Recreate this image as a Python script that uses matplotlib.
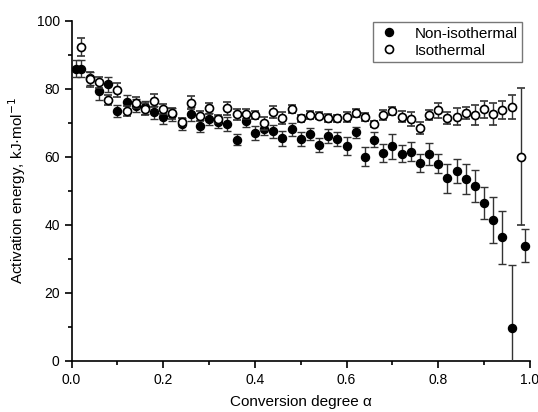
import matplotlib
matplotlib.use('Agg')
import matplotlib.pyplot as plt
from matplotlib.ticker import MultipleLocator

plt.rcParams['font.family'] = ['Liberation Sans', 'DejaVu Sans']

# Non-isothermal series
alpha_non = [0.01, 0.02, 0.04, 0.06, 0.08, 0.10, 0.12, 0.14, 0.16, 0.18,
             0.20, 0.22, 0.24, 0.26, 0.28, 0.30, 0.32, 0.34, 0.36, 0.38,
             0.40, 0.42, 0.44, 0.46, 0.48, 0.50, 0.52, 0.54, 0.56, 0.58,
             0.60, 0.62, 0.64, 0.66, 0.68, 0.70, 0.72, 0.74, 0.76, 0.78,
             0.80, 0.82, 0.84, 0.86, 0.88, 0.90, 0.92, 0.94, 0.96, 0.99]
E_non = [85.8, 85.8, 83.0, 79.4, 81.3, 73.4, 76.0, 75.0, 74.5, 73.0,
         71.7, 72.4, 69.6, 72.6, 69.0, 71.1, 70.1, 69.6, 65.0, 70.6,
         66.9, 68.2, 67.4, 65.4, 68.0, 65.1, 66.7, 63.4, 66.1, 65.1,
         63.1, 67.1, 60.0, 64.9, 61.0, 63.1, 60.8, 61.5, 58.2, 60.8,
         57.9, 53.6, 55.7, 53.4, 51.3, 46.3, 41.4, 36.3, 9.5, 33.8]
err_non = [2.5, 2.5, 2.0, 2.8, 2.2, 1.8, 2.2, 2.0, 2.0, 2.0,
           2.0, 1.8, 1.8, 2.0, 1.8, 1.8, 1.8, 2.0, 1.7, 2.0,
           2.0, 1.8, 2.0, 2.2, 1.8, 2.0, 1.8, 2.0, 2.0, 2.0,
           2.7, 1.5, 2.8, 2.2, 2.7, 3.7, 2.5, 2.8, 2.6, 3.3,
           2.8, 4.3, 3.5, 4.4, 4.7, 4.7, 6.7, 7.8, 18.6, 4.8]

# Isothermal series
alpha_iso = [0.02, 0.04, 0.06, 0.08, 0.10, 0.12, 0.14, 0.16, 0.18, 0.20,
             0.22, 0.24, 0.26, 0.28, 0.30, 0.32, 0.34, 0.36, 0.38, 0.40,
             0.42, 0.44, 0.46, 0.48, 0.50, 0.52, 0.54, 0.56, 0.58, 0.60,
             0.62, 0.64, 0.66, 0.68, 0.70, 0.72, 0.74, 0.76, 0.78, 0.80,
             0.82, 0.84, 0.86, 0.88, 0.90, 0.92, 0.94, 0.96, 0.98]
E_iso = [92.2, 82.8, 81.8, 76.7, 79.6, 73.4, 75.9, 73.9, 76.5, 74.0,
         72.7, 70.2, 75.9, 72.0, 74.2, 71.0, 74.2, 72.4, 72.6, 72.3,
         69.8, 73.2, 71.3, 74.0, 71.3, 72.3, 72.0, 71.3, 71.3, 71.6,
         72.9, 71.6, 69.6, 72.3, 73.4, 71.8, 71.0, 68.4, 72.3, 73.7,
         71.3, 71.8, 72.8, 72.3, 73.9, 72.5, 73.7, 74.7, 60.0]
err_iso = [2.7, 2.2, 1.5, 1.5, 2.0, 1.5, 1.5, 1.8, 1.8, 1.5,
           1.5, 1.2, 2.0, 1.5, 1.7, 1.2, 2.0, 1.5, 1.5, 1.2,
           2.0, 1.7, 1.8, 1.2, 1.0, 1.2, 1.0, 1.2, 1.0, 1.5,
           1.2, 1.2, 1.0, 1.5, 1.2, 1.5, 2.0, 1.8, 1.5, 2.2,
           1.8, 2.4, 1.7, 2.9, 2.6, 3.3, 2.6, 3.5, 20.2]

fig = plt.figure(figsize=(5.38, 4.12), dpi=100)
ax = fig.add_axes([0.133, 0.1245, 0.852, 0.8255])

ax.errorbar(alpha_non, E_non, yerr=err_non, fmt='o', color='black',
            markersize=5.8, ecolor='#333333', elinewidth=1.0, capsize=3,
            capthick=1.0, label='Non-isothermal', zorder=3)
ax.errorbar(alpha_iso, E_iso, yerr=err_iso, fmt='o', mfc='white', mec='black',
            mew=1.2, markersize=5.8, ecolor='#333333', elinewidth=1.0,
            capsize=3, capthick=1.0, label='Isothermal', zorder=4)

ax.set_xlim(0, 1.0)
ax.set_ylim(0, 100)
ax.xaxis.set_major_locator(MultipleLocator(0.2))
ax.xaxis.set_minor_locator(MultipleLocator(0.1))
ax.yaxis.set_major_locator(MultipleLocator(20))
ax.yaxis.set_minor_locator(MultipleLocator(10))
ax.xaxis.set_major_formatter(plt.FormatStrFormatter('%.1f'))

for side in ('top', 'right'):
    ax.spines[side].set_visible(False)
for side in ('left', 'bottom'):
    ax.spines[side].set_linewidth(1.2)
ax.tick_params(which='both', direction='out', width=1.2, labelsize=10)
ax.tick_params(which='major', length=5)
ax.tick_params(which='minor', length=3)

ax.set_xlabel('Conversion degree α', fontsize=11, labelpad=6)
ax.set_ylabel('Activation energy, kJ·mol$^{-1}$', fontsize=11, labelpad=6)

handles, labels = ax.get_legend_handles_labels()
handles = [h[0] for h in handles]
leg = ax.legend(handles, labels, loc='upper right', bbox_to_anchor=(0.983, 0.996),
                borderaxespad=0, fontsize=11, fancybox=False, framealpha=1,
                edgecolor='#777777', borderpad=0.3, handletextpad=0.9,
                labelspacing=0.2, handlelength=1.5)
leg.get_frame().set_linewidth(1.0)

fig.savefig('out.png', dpi=100)
